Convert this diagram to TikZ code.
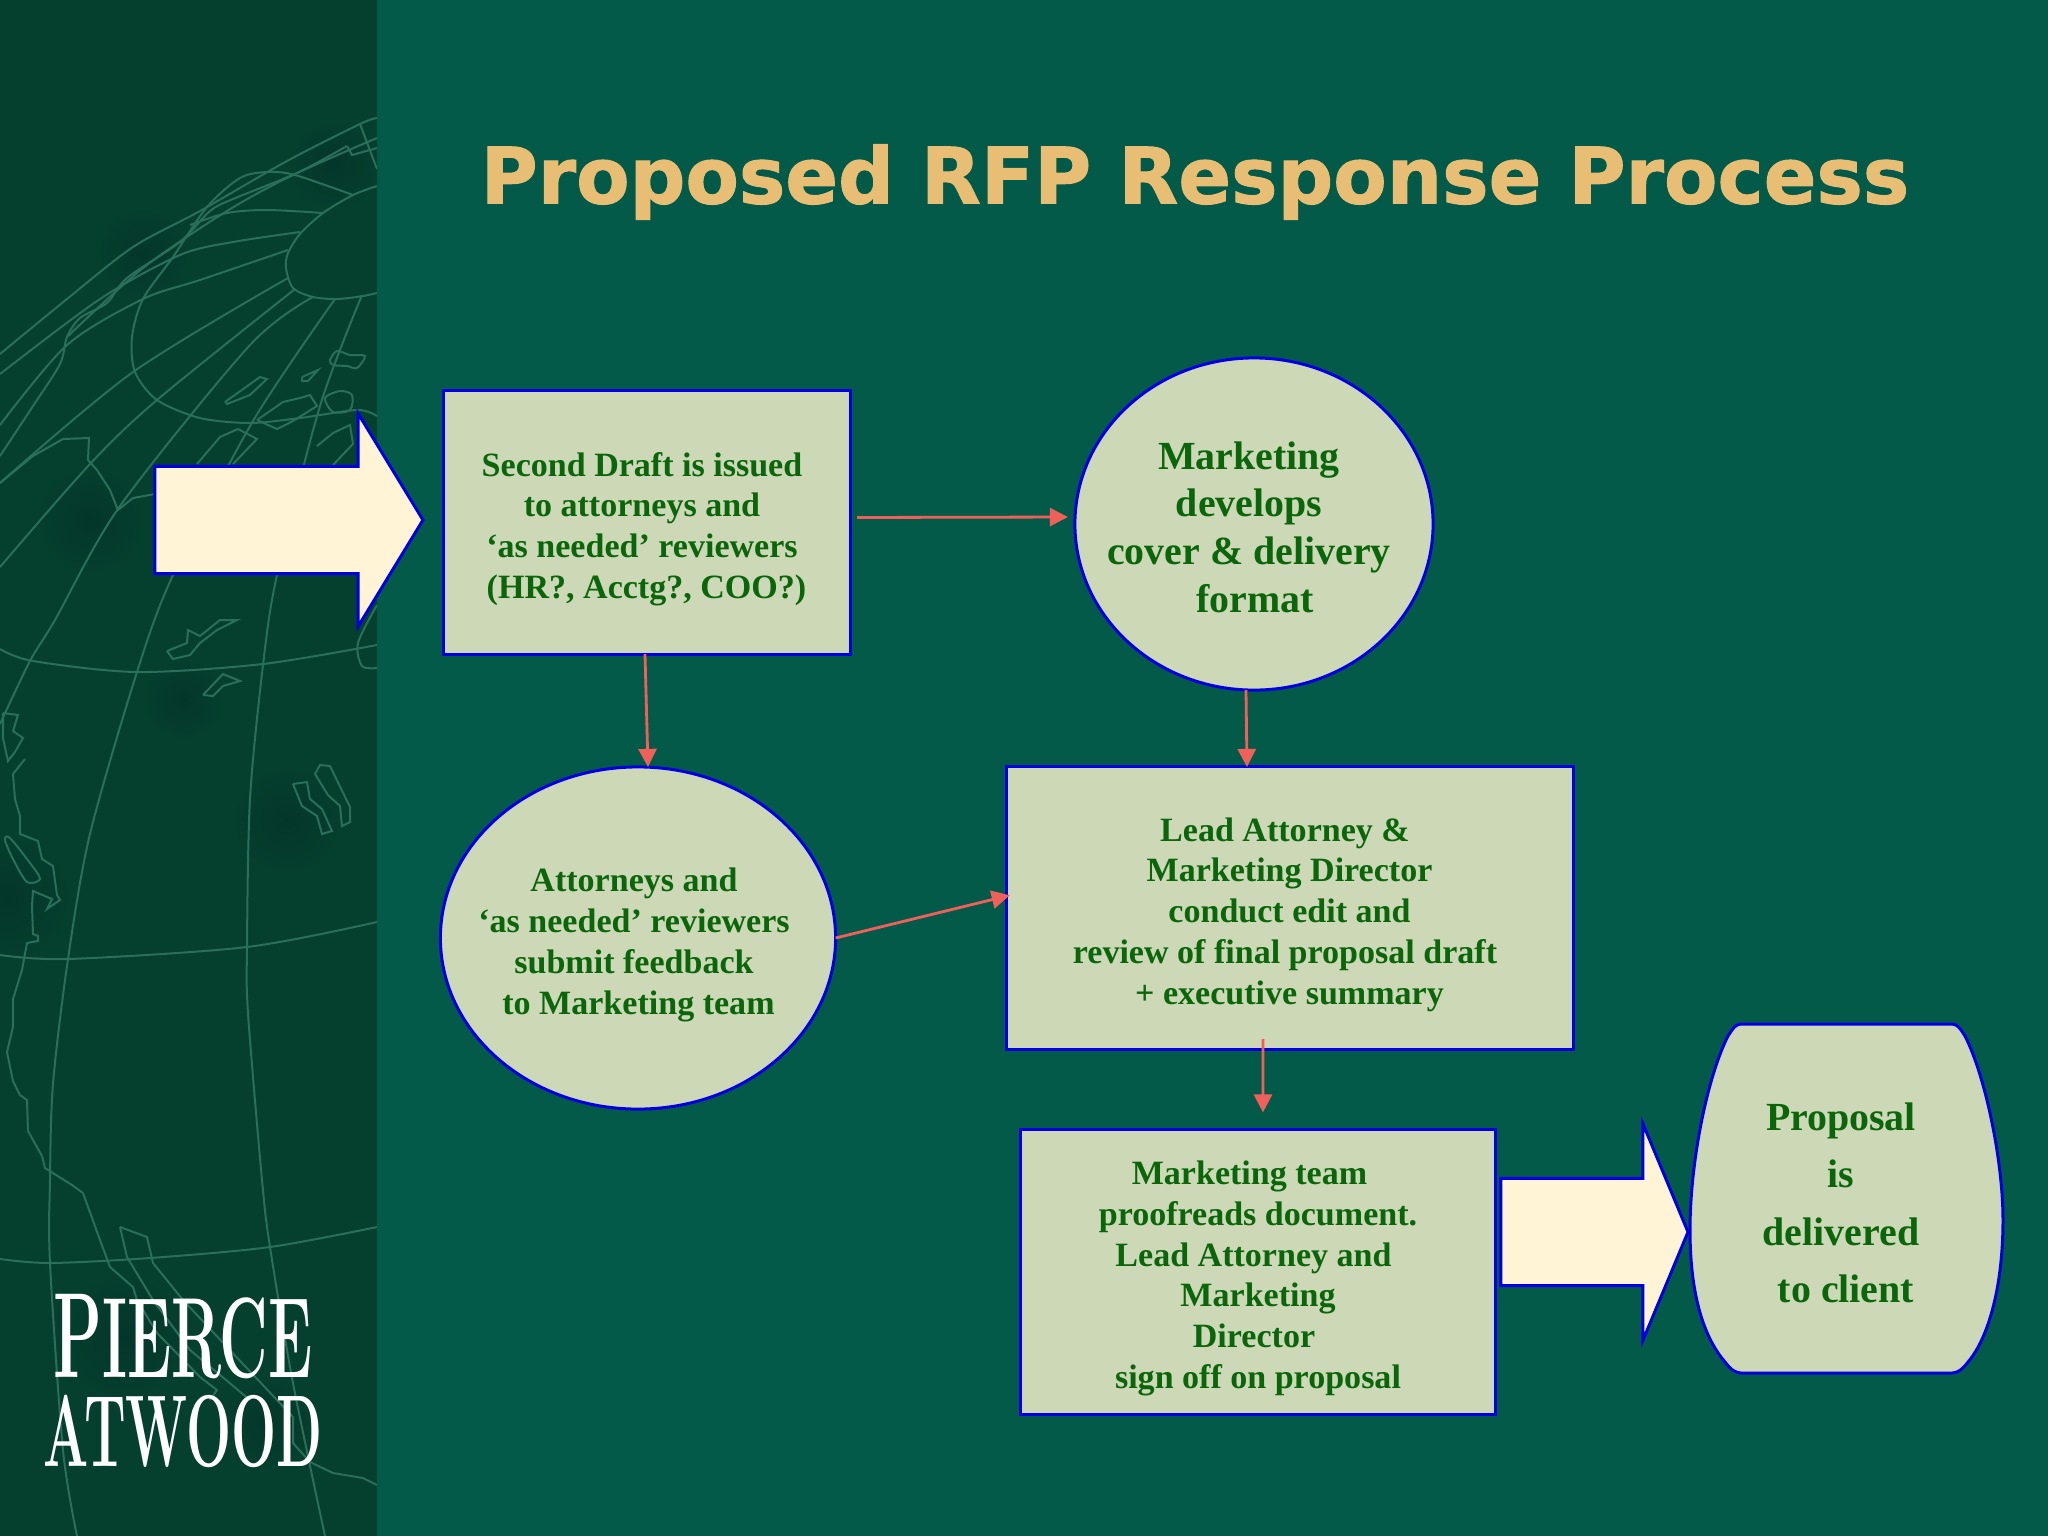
\documentclass[tikz,border=0pt]{standalone}
\usepackage{fontspec}
\usetikzlibrary{arrows.meta,shapes.geometric,shapes.arrows}
\newfontfamily\boxfont{Liberation Serif}
\newfontfamily\titlefont[BoldFeatures={FakeBold=1.2}]{DejaVu Sans}
\definecolor{bgmain}{HTML}{045A48}
\definecolor{bgpanel}{HTML}{05402E}
\definecolor{bgspot}{HTML}{03362A}
\definecolor{globe}{HTML}{2B6E5A}
\definecolor{boxfill}{HTML}{CDD8B6}
\definecolor{boxline}{HTML}{0000E0}
\definecolor{boxtext}{HTML}{0B660B}
\definecolor{flowred}{HTML}{F0605A}
\definecolor{bigfill}{HTML}{FFF5D6}
\definecolor{titlegold}{HTML}{E8BE74}
\tikzset{
  shapeline/.style={draw=boxline,fill=boxfill,line width=.03cm},
  small/.style={text=boxtext,align=center,inner sep=0pt,font=\boxfont\bfseries\fontsize{9.68}{11.6}\selectfont},
  large/.style={text=boxtext,align=center,inner sep=0pt,font=\boxfont\bfseries\fontsize{11.34}{13.54}\selectfont},
  stepbox/.style={shapeline,rectangle,inner sep=0pt,outer sep=0pt},
  stepoval/.style={shapeline,ellipse,inner sep=0pt,outer sep=0pt},
  flow/.style={draw=flowred,line width=.028cm,-{Triangle[length=.18cm,width=.18cm]}},
  bigarrow/.style={draw=boxline,fill=bigfill,line width=.03cm,single arrow,anchor=tip,inner xsep=0pt,inner ysep=.52cm,outer sep=0pt},
  gridline/.style={draw=globe,line width=.02cm}
}
\begin{document}
\begin{tikzpicture}[x=0.01cm,y=-0.01cm]
\useasboundingbox (0,0) rectangle (2048,1536);
\fill[bgmain] (0,0) rectangle (2048,1536);
\fill[bgpanel] (0,0) rectangle (377,1536);

% globe
\begin{scope}
\clip (0,0) rectangle (377,1536);
\foreach \cx/\cy/\rad in {143/253/.5,333/165/.5,90/520/.6,183/699/.45,287/820/.6,7/898/.7,123/1337/.7,267/1423/.5}
  \shade[inner color=bgspot,outer color=bgpanel] (\cx,\cy) circle (\rad cm);
\draw[gridline] plot[smooth] coordinates {(377,186) (353,195) (323,213) (300,234) (288,253) (286,268) (293,288) (313,297) (337,299) (363,296) (377,293)};
\draw[gridline] plot[smooth] coordinates {(353,195) (295,175) (267,172) (240,178) (207,207) (173,257) (143,299) (132,337) (135,372) (157,400) (200,418) (250,423) (300,418) (357,410) (377,416)};
\draw[gridline] plot[smooth] coordinates {(377,118) (360,124) (287,161) (200,211) (133,247) (67,299) (0,354)};
\draw[gridline] plot[smooth] coordinates {(377,138) (293,175) (227,211) (143,268) (67,337)};
\draw[gridline] plot[smooth] coordinates {(323,213) (267,210) (227,213) (190,225)};
\draw[gridline] plot[smooth] coordinates {(300,232) (233,242) (180,255) (100,299) (0,374)};
\draw[gridline] plot[smooth] coordinates {(288,250) (200,280) (143,299) (67,345) (0,425)};
\draw[gridline] plot[smooth] coordinates {(288,278) (133,372) (0,483)};
\draw[gridline] plot[smooth] coordinates {(295,289) (157,400) (90,464) (0,567)};
\draw[gridline] plot[smooth] coordinates {(313,297) (250,345) (120,506) (55,620) (30,661) (0,724)};
\draw[gridline] plot[smooth] coordinates {(335,299) (253,421) (173,575) (137,672) (90,834) (68,959) (53,1084) (50,1180) (50,1263) (63,1450) (77,1536)};
\draw[gridline] plot[smooth] coordinates {(362,295) (320,406) (277,575) (263,665) (250,799) (247,947) (248,1013) (262,1180) (270,1247) (293,1383) (325,1536)};
\draw[gridline] plot[smooth] coordinates {(0,649) (33,661) (137,672) (263,664) (377,645)};
\draw[gridline] plot[smooth] coordinates {(0,955) (68,959) (247,947) (377,922)};
\draw[gridline] plot[smooth] coordinates {(0,1259) (50,1263) (150,1258) (270,1247) (377,1227)};
\draw[gridline] (360,124) -- (377,169);
% coast
\draw[gridline] plot[smooth] coordinates {(0,456) (33,406) (60,364) (67,337) (80,318) (107,303) (127,278) (180,242) (210,211) (233,199) (297,173) (347,146)};
\draw[gridline] plot coordinates {(347,146) (352,155) (377,148)};
\draw[gridline] plot coordinates {(0,483) (33,456) (63,439) (89,438) (88,460) (97,470) (110,490) (118,510) (133,498) (155,494)};
\draw[gridline] plot coordinates {(25,759) (13,774) (15,799) (20,816) (20,834) (38,841) (42,859) (53,866) (57,895) (60,900) (47,909) (52,899) (33,891) (32,906) (33,934) (38,936) (38,941) (27,943) (22,970) (13,999) (13,1027) (7,1052) (13,1081) (20,1095) (27,1100) (28,1131) (42,1156) (45,1168) (72,1185) (83,1193) (100,1240) (110,1267) (133,1287) (137,1300) (157,1333) (200,1377) (217,1390) (210,1400)};
\draw[gridline] plot coordinates {(120,1227) (147,1237) (153,1263) (183,1300) (227,1347) (293,1417) (293,1443) (310,1462) (333,1473) (363,1478) (377,1485)};
\draw[gridline] plot coordinates {(120,1227) (127,1257) (153,1300) (190,1350) (250,1400)};
\draw[gridline] plot[smooth cycle] coordinates {(5,840) (10,838) (30,863) (40,879) (27,882) (13,859)};
\draw[gridline] plot coordinates {(3,713) (18,715) (13,731) (23,738) (15,752) (8,761) (3,738) (3,713)};
% islands
\draw[gridline] plot coordinates {(225,402) (260,377) (267,379) (250,395) (227,404) (225,402)};
\draw[gridline] plot coordinates {(302,377) (318,370) (308,381) (302,381) (302,377)};
\draw[gridline] plot[smooth cycle] coordinates {(330,360) (337,351) (350,355) (365,356) (357,368) (347,366) (333,365)};
\draw[gridline] plot[smooth cycle] coordinates {(325,398) (340,391) (352,395) (350,410) (333,412)};
\draw[gridline] plot coordinates {(257,420) (283,402) (300,398) (310,395) (317,406) (293,421) (277,429) (257,420)};
\draw[gridline] plot coordinates {(197,464) (220,437) (238,429) (257,439) (233,464)};
\draw[gridline] plot coordinates {(317,446) (333,433) (350,425) (353,444) (333,465)};
\draw[gridline] plot coordinates {(167,651) (187,643) (188,630) (200,636) (220,620) (237,620) (217,630) (200,643) (190,655) (173,659) (167,651)};
\draw[gridline] plot coordinates {(203,695) (223,674) (240,681) (223,686) (213,696) (203,695)};
\draw[gridline] plot coordinates {(315,774) (320,765) (330,766) (350,807) (350,822) (342,826) (340,806) (328,795) (315,774)};
\draw[gridline] plot coordinates {(293,784) (307,782) (310,799) (322,809) (332,831) (322,834) (317,816) (302,806) (293,784)};
\draw[gridline] plot[smooth] coordinates {(377,605) (358,643) (362,666) (377,668)};
\end{scope}

\node[text=white,anchor=south,align=center,inner sep=0pt,xscale=.523,transform shape,font=\bfseries\fontsize{30}{25.3}\selectfont] (logo) at (183,1468) {{\fontsize{34.5}{25}\selectfont P\fontsize{32.5}{25}\selectfont IERCE}\\{\fontsize{29}{25}\selectfont ATWOOD}};

\node[text=titlegold,font=\titlefont\bfseries\fontsize{22.15}{26}\selectfont,inner sep=0pt] (title) at (1195,182) {Proposed RFP Response Process};

\node[bigarrow,minimum height=2.68cm,single arrow head extend=.53cm,single arrow tip angle=117.3] (inarrow) at (423,520) {};

\node[stepbox,minimum width=4.06cm,minimum height=2.63cm] (draft) at (647,522.5) {};
\node[small] (drafttext) at (642,529) {Second Draft is issued\\to attorneys and\\‘as needed’ reviewers\\\hspace*{.09cm}(HR?, Acctg?, COO?)};

\node[stepoval,minimum width=3.58cm,minimum height=3.32cm] (mktg) at (1254,524) {};
\node[large] (mktgtext) at (1249,527) {Marketing\\develops\\cover \& delivery\\\hspace*{.12cm}format};

\node[stepoval,minimum width=3.95cm,minimum height=3.42cm] (atty) at (638,938) {};
\node[small] (attytext) at (634,945) {Attorneys and\\‘as needed’ reviewers\\submit feedback\\\hspace*{.09cm}to Marketing team};

\node[stepbox,minimum width=5.66cm,minimum height=2.82cm] (lead) at (1290,908) {};
\node[small] (leadtext) at (1285,914.5) {Lead Attorney \&\\\hspace*{.09cm}Marketing Director\\\hspace*{.09cm}conduct edit and\\review of final proposal draft\\\hspace*{.09cm}+ executive summary};

\node[stepbox,minimum width=4.74cm,minimum height=2.85cm] (signoff) at (1258,1272) {};
\node[small] (signofftext) at (1258,1278.5) {\hspace*{-.17cm}Marketing team\\proofreads document.\\\hspace*{-.09cm}Lead Attorney and\\Marketing\\\hspace*{-.08cm}Director\\sign off on proposal};

\node[bigarrow,minimum height=1.87cm,single arrow head extend=.55cm,single arrow tip angle=134.8] (outarrow) at (1688,1232) {};

\draw[shapeline] (1741,1024) -- (1952,1024) .. controls (1957,1024) and (1960,1028) .. (1965,1036) .. controls (1985,1075) and (2003,1160) .. (2003,1220) .. controls (2003,1290) and (1987,1340) .. (1968,1362) .. controls (1962,1370) and (1957,1373) .. (1952,1373) -- (1741,1373) .. controls (1736,1373) and (1731,1370) .. (1725,1362) .. controls (1706,1340) and (1690,1300) .. (1690,1230) .. controls (1690,1160) and (1708,1075) .. (1728,1036) .. controls (1733,1028) and (1736,1024) .. (1741,1024) -- cycle;
\node[text=boxtext,align=center,font=\boxfont\bfseries\fontsize{11.34}{16.36}\selectfont,inner sep=0pt] (proposal) at (1841,1203) {Proposal\\is\\delivered\\\hspace*{.1cm}to client};

\draw[flow,shorten <=.07cm,shorten >=.07cm] ([yshift=.05cm]draft.east) -- ([yshift=.07cm]mktg.west);
\draw[flow] ([xshift=-.02cm]draft.south) -- ([xshift=.1cm]atty.north);
\draw[flow] ([xshift=-.08cm]mktg.south) -- ([xshift=-.43cm]lead.north);
\draw[flow,shorten >=-.03cm] (atty.east) -- ([yshift=.12cm]lead.west);
\draw[flow,shorten <=-.1cm,shorten >=.17cm] ([xshift=-.27cm]lead.south) -- ([xshift=.05cm]signoff.north);
\end{tikzpicture}
\end{document}
